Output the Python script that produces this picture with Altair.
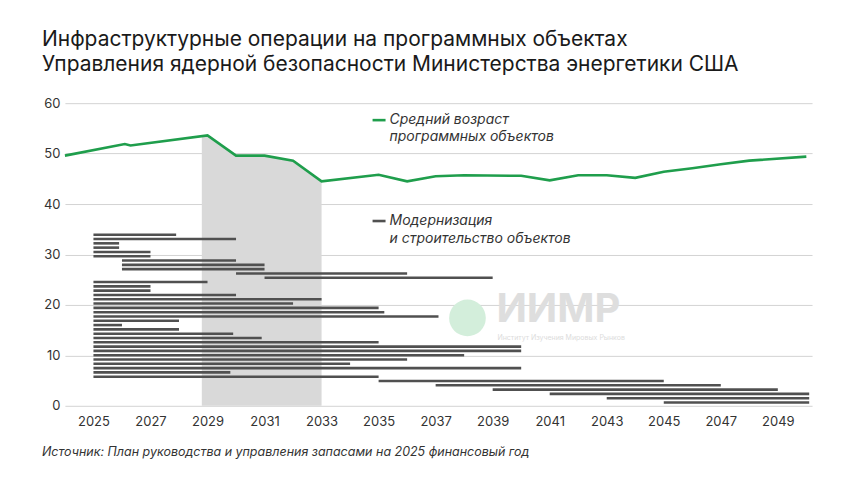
import altair as alt
import pandas as pd

FONT = "Inter"

# --- Average age of program facilities (green line) ---
age_years = [2024, 2026.1, 2026.3, 2029, 2030, 2031, 2032, 2033, 2035, 2036, 2037,
             2038, 2040, 2041, 2042, 2043, 2044, 2045, 2046, 2047, 2048, 2050]
age_values = [49.6, 51.9, 51.6, 53.6, 49.6, 49.6, 48.6, 44.5, 45.8, 44.5, 45.5,
              45.7, 45.6, 44.7, 45.7, 45.7, 45.2, 46.4, 47.1, 47.9, 48.6, 49.4]

# --- Shaded period under the line ---
shade_years = [2028.8, 2029, 2030, 2031, 2032, 2033]
shade_values = [53.4, 53.6, 49.6, 49.6, 48.6, 44.5]

# --- Modernization / construction projects (top row first) ---
proj_start = [2025, 2025, 2025, 2025, 2025, 2025, 2026, 2026, 2026, 2030,
              2031, 2025, 2025, 2025, 2025, 2025, 2025, 2025, 2025, 2025,
              2025, 2025, 2025, 2025, 2025, 2025, 2025, 2025, 2025, 2025,
              2025, 2025, 2025, 2025, 2035, 2037, 2039, 2041, 2043, 2045]
proj_end = [2027.9, 2030, 2025.9, 2025.9, 2027, 2027, 2030, 2031, 2031, 2036,
            2039, 2029, 2027, 2027, 2030, 2033, 2032, 2035, 2035.2, 2037.1,
            2028, 2026, 2028, 2029.9, 2030.9, 2035, 2040, 2040, 2038, 2036,
            2034, 2040, 2029.8, 2035, 2045, 2047, 2049, 2050.1, 2050.1, 2050.1]
proj_row = list(range(1, len(proj_start) + 1))

x_ticks = list(range(2025, 2050, 2))
y_ticks = [0, 10, 20, 30, 40, 50, 60]

GREEN = "#1f9e4c"
BAR = "#505050"
SHADE = "#d9d9d9"

xscale = alt.Scale(domain=[2024, 2050.2], nice=False, zero=False)
yscale = alt.Scale(domain=[0, 60], nice=False, zero=True)

xaxis = alt.Axis(values=x_ticks, format="d", title=None, grid=False, domain=False,
                 ticks=False, labelPadding=10, labelFontSize=13, labelColor="#333333",
                 labelFont=FONT)
yaxis = alt.Axis(values=y_ticks, title=None, grid=True, gridColor="#d3d3d3",
                 domain=False, ticks=False, labelPadding=5, labelFontSize=13,
                 labelColor="#333333", labelFont=FONT)

age_df = pd.DataFrame({"year": age_years, "age": age_values})
shade_df = pd.DataFrame({"year": shade_years, "age": shade_values})
proj_df = pd.DataFrame({"start": proj_start, "end": proj_end, "row": proj_row})

shade = alt.Chart(shade_df).mark_area(color=SHADE, opacity=1).encode(
    x=alt.X("year:Q", scale=xscale, axis=xaxis),
    y=alt.Y("age:Q", scale=yscale, axis=yaxis),
    y2=alt.datum(0),
)

# watermark
wm_text = alt.Chart(pd.DataFrame({"t": ["ИИМР"]})).mark_text(
    font=FONT, fontSize=40, fontWeight=700, color="#dedede", align="left",
    baseline="alphabetic").encode(x=alt.value(432), y=alt.value(219), text="t:N")
wm_small = alt.Chart(pd.DataFrame({"t": ["Институт Изучения Мировых Рынков"]})).mark_text(
    font=FONT, fontSize=7, color="#dcdcdc", align="left",
    baseline="top").encode(x=alt.value(433), y=alt.value(231), text="t:N")
wm_globe = alt.Chart(pd.DataFrame({"t": [1]})).mark_point(
    filled=True, color="#d3eedb", opacity=1, size=1350, shape="circle").encode(
    x=alt.value(403), y=alt.value(215))

bars = alt.Chart(proj_df).transform_calculate(
    ypos="0.65 + (40 - datum.row) * 0.853"
).mark_rule(color=BAR, strokeWidth=2.6, strokeCap="butt").encode(
    x=alt.X("start:Q", scale=xscale, axis=xaxis),
    x2="end:Q",
    y=alt.Y("ypos:Q", scale=yscale, axis=yaxis),
)

line = alt.Chart(age_df).mark_line(color=GREEN, strokeWidth=2.6).encode(
    x=alt.X("year:Q", scale=xscale, axis=xaxis),
    y=alt.Y("age:Q", scale=yscale, axis=yaxis),
)

# legend swatches
leg_line = alt.Chart(pd.DataFrame({"t": [1]})).mark_rule(color=GREEN, strokeWidth=2.6).encode(
    x=alt.value(308), x2=alt.value(321), y=alt.value(17))
leg_bar = alt.Chart(pd.DataFrame({"t": [1]})).mark_rule(color=BAR, strokeWidth=2.6).encode(
    x=alt.value(308), x2=alt.value(321), y=alt.value(118))


def txt(s, x, y, size, color="#333333", style="normal", weight=400, baseline="middle"):
    return alt.Chart(pd.DataFrame({"t": [s]})).mark_text(
        font=FONT, fontSize=size, color=color, fontStyle=style, fontWeight=weight,
        align="left", baseline=baseline).encode(x=alt.value(x), y=alt.value(y), text="t:N")


texts = [
    txt("Средний возраст", 325, 17, 14, style="italic"),
    txt("программных объектов", 325, 34, 14, style="italic"),
    txt("Модернизация", 325, 118, 14, style="italic"),
    txt("и строительство объектов", 325, 136, 14, style="italic"),
    txt("Инфраструктурные операции на программных объектах", -23, -57, 21,
        color="#1a1a1a", weight=400, baseline="alphabetic"),
    txt("Управления ядерной безопасности Министерства энергетики США", -23, -32, 21,
        color="#1a1a1a", weight=400, baseline="alphabetic"),
    txt("Источник: План руководства и управления запасами на 2025 финансовый год",
        -23, 349, 12.5, color="#333333", style="italic"),
]

chart = alt.layer(shade, wm_globe, wm_text, wm_small, bars, line, leg_line, leg_bar, *texts).properties(
    width=748, height=303,
    autosize=alt.AutoSizeParams(type="none"),
    padding={"left": 57, "top": 95, "right": 40, "bottom": 70},
    background="white",
).configure_view(stroke=None)

chart.save("out.html", embed_options={"renderer": "svg", "actions": False})
